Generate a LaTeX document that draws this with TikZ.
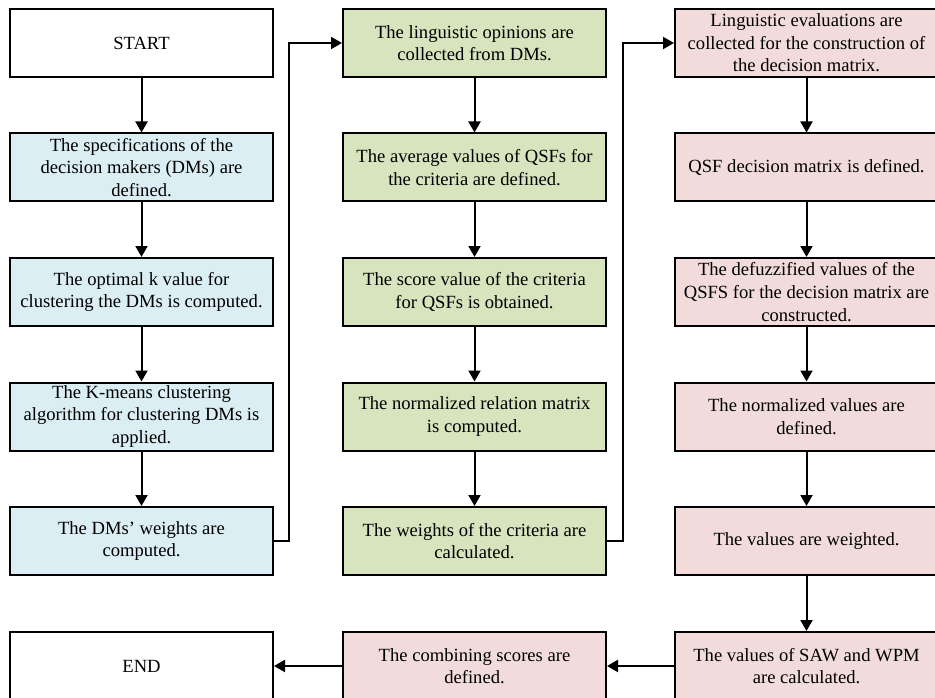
\documentclass[tikz,border=0pt]{standalone}
\usepackage{fontspec}
\setmainfont{Liberation Serif}
\usetikzlibrary{arrows.meta}
\definecolor{cblue}{HTML}{DBEEF4}
\definecolor{cgreen}{HTML}{D7E4BD}
\definecolor{cpink}{HTML}{F2DCDB}
\begin{document}
\begin{tikzpicture}[x=1pt,y=-1pt,
  box/.style={draw=black,line width=2pt,minimum width=263pt,minimum height=68pt,inner sep=0pt,
    align=center,font=\fontsize{18.6}{22.6}\selectfont},
  bluebox/.style={box,fill=cblue},
  greenbox/.style={box,fill=cgreen},
  pinkbox/.style={box,fill=cpink},
  whitebox/.style={box,fill=white},
  arr/.style={line width=2pt,-{Triangle[width=12pt,length=11pt]}}]
\useasboundingbox (0,0) rectangle (935,698);
% column 1
\node[whitebox] (a1) at (141.5,43) {START};
\node[bluebox] (a2) at (141.5,167.5) {The specifications of the\\decision makers (DMs) are\\defined.};
\node[bluebox] (a3) at (141.5,292) {The optimal k value for\\clustering the DMs is computed.};
\node[bluebox] (a4) at (141.5,416.5) {The K-means clustering\\algorithm for clustering DMs is\\applied.};
\node[bluebox] (a5) at (141.5,541) {The DMs’ weights are\\computed.};
\node[whitebox] (a6) at (141.5,666) {END};
% column 2
\node[greenbox] (b1) at (474.5,43) {The linguistic opinions are\\collected from DMs.};
\node[greenbox] (b2) at (474.5,167.5) {The average values of QSFs for\\the criteria are defined.};
\node[greenbox] (b3) at (474.5,292) {The score value of the criteria\\for QSFs is obtained.};
\node[greenbox] (b4) at (474.5,416.5) {The normalized relation matrix\\is computed.};
\node[greenbox] (b5) at (474.5,541) {The weights of the criteria are\\calculated.};
\node[pinkbox] (b6) at (474.5,666) {The combining scores are\\defined.};
% column 3
\node[pinkbox] (c1) at (806.5,43) {Linguistic evaluations are\\collected for the construction of\\the decision matrix.};
\node[pinkbox] (c2) at (806.5,167.5) {QSF decision matrix is defined.};
\node[pinkbox] (c3) at (806.5,292) {The defuzzified values of the\\QSFS for the decision matrix are\\constructed.};
\node[pinkbox] (c4) at (806.5,416.5) {The normalized values are\\defined.};
\node[pinkbox] (c5) at (806.5,541) {The values are weighted.};
\node[pinkbox] (c6) at (806.5,666) {The values of SAW and WPM\\are calculated.};
% connectors
\draw[arr] (a1) -- (a2);
\draw[arr] (a2) -- (a3);
\draw[arr] (a3) -- (a4);
\draw[arr] (a4) -- (a5);
\draw[arr] (b1) -- (b2);
\draw[arr] (b2) -- (b3);
\draw[arr] (b3) -- (b4);
\draw[arr] (b4) -- (b5);
\draw[arr] (c1) -- (c2);
\draw[arr] (c2) -- (c3);
\draw[arr] (c3) -- (c4);
\draw[arr] (c4) -- (c5);
\draw[arr] (c5) -- (c6);
\draw[arr] (c6) -- (b6);
\draw[arr] (b6) -- (a6);
\coordinate (p1) at (289,541);
\coordinate (p2) at (289,43);
\draw[arr] (a5.east) -- (p1) -- (p2) -- (b1.west);
\coordinate (q1) at (623,541);
\coordinate (q2) at (623,43);
\draw[arr] (b5.east) -- (q1) -- (q2) -- (c1.west);
\end{tikzpicture}
\end{document}
